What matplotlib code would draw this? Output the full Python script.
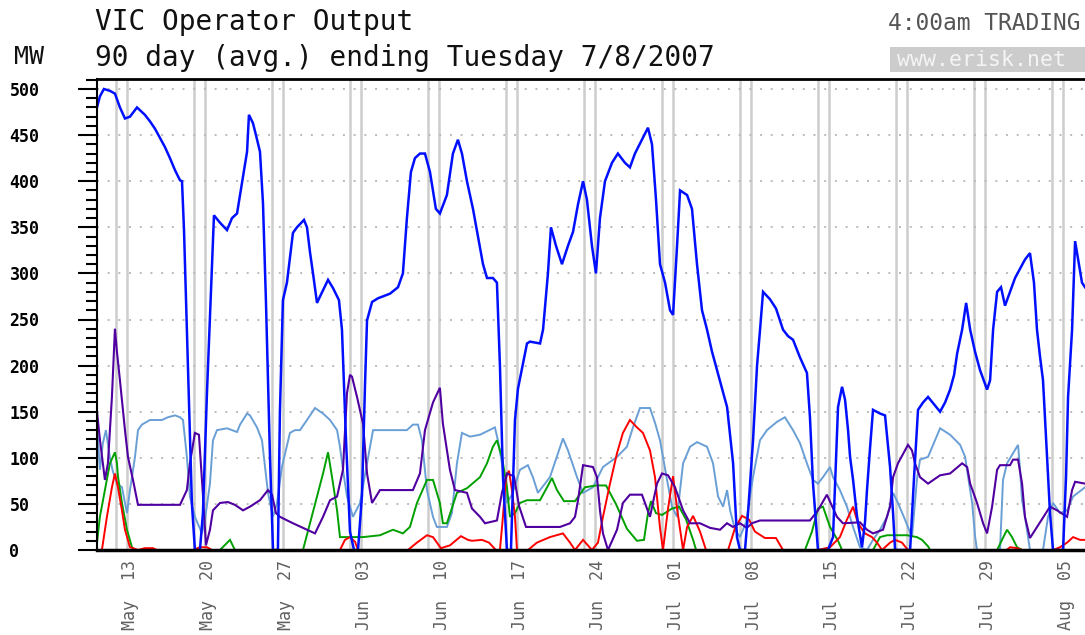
import matplotlib
matplotlib.use("Agg")

import matplotlib.dates as mdates
import matplotlib.pyplot as plt
import pandas as pd
from matplotlib.patches import Rectangle
from matplotlib.ticker import MultipleLocator

START = pd.Timestamp("2007-05-10")
END = pd.Timestamp("2007-08-07")
MONO = "DejaVu Sans Mono"

# (days since START, MW)
blue_pts = [
    (0.31, 480), (0.57, 492), (0.93, 500), (1.47, 498), (1.92, 495), (2.37, 480),
    (2.82, 468), (3.27, 470), (3.90, 480), (4.61, 472), (5.06, 465), (5.51, 457),
    (5.96, 447), (6.41, 437), (6.86, 425), (7.31, 412), (7.76, 401), (7.94, 400),
    (8.12, 347), (8.47, 200), (8.83, 50), (9.10, 0), (9.55, 0), (9.82, 40),
    (10.18, 170), (10.54, 280), (10.81, 363), (11.35, 355), (11.98, 347), (12.43, 360),
    (12.88, 365), (13.42, 405), (13.78, 432), (13.95, 472), (14.31, 463), (14.58, 450),
    (14.94, 432), (15.21, 376), (15.48, 268), (15.84, 100), (16.11, 0), (16.55, 0),
    (16.73, 150), (17.00, 271), (17.36, 290), (17.90, 344), (18.26, 350), (18.89, 358),
    (19.16, 350), (19.43, 323), (19.70, 300), (20.06, 268), (20.33, 275), (21.05, 293),
    (21.50, 284), (22.03, 271), (22.30, 239), (22.66, 120), (23.02, 20), (23.38, 0),
    (23.74, 0), (24.10, 60), (24.37, 180), (24.55, 249), (25.00, 269), (25.53, 273),
    (26.61, 278), (27.33, 285), (27.77, 300), (28.13, 360), (28.49, 410), (28.85, 425),
    (29.30, 430), (29.75, 430), (30.20, 410), (30.73, 370), (31.09, 365), (31.72, 385),
    (32.26, 430), (32.71, 445), (33.07, 430), (33.52, 400), (34.06, 370), (34.51, 340),
    (34.96, 310), (35.32, 295), (35.85, 295), (36.21, 290), (36.48, 200), (36.75, 80),
    (37.11, 0), (37.47, 0), (37.83, 141), (38.10, 175), (38.46, 197), (38.91, 224),
    (39.18, 226), (40.08, 224), (40.35, 239), (40.79, 300), (41.06, 350), (41.51, 330),
    (42.05, 310), (42.59, 330), (43.04, 345), (43.49, 375), (43.94, 400), (44.29, 380),
    (44.74, 330), (45.10, 300), (45.46, 360), (45.91, 400), (46.54, 420), (47.07, 430),
    (47.70, 420), (48.15, 415), (48.60, 430), (49.23, 445), (49.77, 458), (50.13, 440),
    (50.49, 380), (50.85, 310), (51.30, 290), (51.75, 260), (52.02, 255), (52.38, 330),
    (52.65, 390), (53.28, 385), (53.72, 370), (54.17, 310), (54.62, 260), (55.07, 239),
    (55.52, 215), (55.97, 195), (56.42, 175), (56.87, 155), (57.14, 125), (57.41, 94),
    (57.76, 14), (58.03, 0), (58.48, 0), (58.75, 40), (59.20, 119), (59.56, 200),
    (59.83, 239), (60.10, 280), (60.72, 272), (61.26, 262), (61.89, 239), (62.34, 232),
    (62.79, 228), (63.41, 209), (64.04, 192), (64.31, 144), (64.58, 73), (65.03, 0),
    (65.93, 0), (66.38, 14), (66.83, 155), (67.19, 177), (67.46, 163), (67.73, 130),
    (67.91, 101), (68.18, 76), (68.54, 36), (68.98, 3), (69.25, 30), (69.43, 65),
    (69.70, 110), (69.97, 152), (70.60, 148), (71.05, 146), (71.50, 90), (71.77, 40),
    (71.95, 0), (73.30, 0), (73.66, 80), (74.01, 152), (74.46, 160), (74.91, 166),
    (75.45, 158), (75.99, 150), (76.44, 160), (76.89, 174), (77.25, 190), (77.52, 213),
    (77.97, 239), (78.33, 268), (78.69, 239), (79.13, 215), (79.58, 195), (80.21, 174),
    (80.48, 184), (80.75, 239), (81.11, 280), (81.46, 285), (81.82, 265), (82.27, 280),
    (82.72, 295), (83.17, 305), (83.61, 315), (84.06, 322), (84.42, 290), (84.69, 239),
    (84.96, 210), (85.23, 184), (85.59, 101), (85.86, 40), (86.13, 0), (87.03, 0),
    (87.30, 80), (87.48, 166), (87.84, 239), (88.11, 335), (88.46, 310), (88.73, 290),
    (89.00, 285),
]

purple_pts = [
    (0.31, 150), (0.57, 120), (1.02, 76), (1.29, 94), (1.65, 166), (1.92, 240),
    (2.10, 215), (2.37, 184), (2.82, 130), (3.09, 101), (3.54, 76), (3.99, 49),
    (7.76, 49), (8.38, 65), (8.65, 94), (9.10, 127), (9.46, 125), (9.82, 60),
    (10.09, 5), (10.45, 22), (10.72, 43), (11.35, 51), (12.06, 52), (12.69, 49),
    (13.42, 43), (14.04, 47), (14.94, 54), (15.66, 65), (16.02, 60), (16.38, 40),
    (16.73, 36), (17.90, 29), (19.16, 22), (19.88, 18), (20.60, 36), (21.23, 54),
    (21.86, 58), (22.39, 87), (22.75, 170), (23.02, 190), (23.20, 188), (23.65, 166),
    (24.19, 137), (24.55, 83), (25.00, 51), (25.71, 65), (28.67, 65), (29.30, 83),
    (29.75, 130), (30.47, 160), (31.09, 176), (31.36, 137), (31.99, 87), (32.44, 65),
    (33.52, 62), (33.97, 45), (34.69, 36), (35.14, 29), (36.21, 32), (36.66, 62),
    (37.11, 83), (37.74, 80), (38.19, 48), (38.82, 25), (40.53, 25), (41.87, 25),
    (42.77, 29), (43.22, 36), (43.49, 54), (43.94, 92), (44.83, 90), (45.19, 79),
    (45.46, 43), (45.73, 18), (46.18, 0), (46.99, 22), (47.52, 51), (48.15, 60),
    (49.23, 60), (49.50, 51), (49.95, 36), (50.58, 72), (51.03, 83), (51.57, 81),
    (52.20, 68), (52.92, 43), (53.55, 29), (54.44, 29), (55.34, 24), (56.24, 22),
    (56.86, 29), (57.40, 25), (58.03, 29), (58.65, 24), (59.10, 29), (59.82, 32),
    (64.31, 32), (65.03, 43), (65.83, 60), (66.73, 36), (67.27, 29), (68.80, 30),
    (69.43, 22), (69.97, 18), (70.87, 22), (71.50, 47), (71.77, 79), (72.21, 94),
    (72.84, 108), (73.11, 114), (73.47, 108), (73.74, 94), (74.19, 79), (74.91, 72),
    (75.99, 81), (76.89, 83), (77.97, 94), (78.42, 90), (78.69, 72), (79.31, 51),
    (79.85, 29), (80.21, 18), (80.66, 47), (81.11, 87), (81.37, 92), (82.27, 92),
    (82.54, 98), (82.99, 98), (83.35, 72), (83.61, 36), (84.06, 13), (84.96, 30),
    (85.86, 47), (86.49, 43), (87.39, 36), (87.84, 65), (88.11, 74), (89.00, 72),
]

lightblue_pts = [
    (0.31, 138), (0.57, 87), (0.84, 116), (1.11, 130), (1.47, 100), (1.74, 85),
    (2.10, 72), (2.55, 68), (3.00, 40), (3.27, 65), (3.72, 101), (3.99, 130),
    (4.34, 136), (5.06, 141), (6.14, 141), (6.68, 144), (7.31, 146), (7.76, 144),
    (8.03, 141), (8.38, 101), (8.65, 58), (9.10, 36), (9.73, 18), (10.00, 33),
    (10.45, 72), (10.72, 119), (11.08, 130), (11.98, 132), (12.88, 128), (13.15, 136),
    (13.78, 148), (14.04, 146), (14.67, 133), (15.12, 119), (15.39, 90), (15.66, 62),
    (16.11, 36), (16.47, 51), (16.91, 90), (17.63, 127), (18.08, 130), (18.53, 130),
    (19.16, 141), (19.88, 154), (20.60, 148), (21.23, 141), (21.86, 130), (22.12, 112),
    (22.39, 87), (22.75, 58), (23.29, 36), (23.92, 51), (24.55, 94), (25.09, 130),
    (28.13, 130), (28.67, 136), (29.12, 136), (29.48, 119), (29.93, 65), (30.47, 36),
    (30.82, 25), (31.72, 25), (32.17, 40), (32.62, 94), (33.07, 127), (33.79, 123),
    (34.69, 125), (36.03, 133), (36.30, 119), (36.66, 94), (37.11, 51), (37.56, 60),
    (38.28, 87), (38.99, 92), (39.44, 79), (39.89, 62), (40.97, 79), (42.14, 121),
    (42.59, 108), (43.40, 79), (43.94, 62), (44.83, 68), (45.73, 90), (46.99, 101),
    (47.88, 112), (48.42, 133), (49.05, 154), (49.95, 154), (50.40, 138), (50.85, 119),
    (51.48, 76), (51.93, 47), (52.38, 36), (52.92, 94), (53.55, 112), (54.17, 117),
    (55.07, 112), (55.61, 94), (56.06, 58), (56.51, 47), (56.87, 65), (57.14, 43),
    (57.59, 22), (58.03, 14), (58.57, 30), (59.20, 79), (59.82, 119), (60.45, 130),
    (61.35, 139), (62.06, 144), (62.79, 130), (63.41, 116), (64.04, 94), (64.58, 76),
    (65.03, 72), (65.48, 79), (66.11, 90), (66.38, 79), (67.00, 65), (67.63, 47),
    (68.18, 25), (68.80, 3), (69.43, 0), (69.97, 11), (70.60, 22), (71.23, 36),
    (71.77, 62), (72.21, 51), (72.84, 33), (73.47, 14), (73.91, 76), (74.19, 98),
    (74.91, 101), (75.54, 119), (75.99, 132), (76.89, 125), (77.79, 114), (78.24, 101),
    (78.51, 79), (78.87, 51), (79.13, 15), (79.31, 0), (81.37, 0), (81.64, 76),
    (82.00, 94), (82.54, 105), (82.99, 114), (83.17, 87), (83.35, 54), (83.61, 36),
    (84.06, 0), (85.23, 0), (85.68, 36), (86.13, 51), (86.76, 40), (87.39, 43),
    (87.93, 58), (89.00, 68),
]

green_pts = [
    (0.31, 8), (0.57, 36), (1.02, 65), (1.47, 94), (1.92, 106), (2.10, 94),
    (2.19, 80), (2.55, 51), (3.00, 22), (3.45, 3), (3.72, 0), (11.35, 0),
    (12.25, 11), (12.69, 0), (18.80, 0), (19.43, 29), (20.06, 58), (20.60, 83),
    (21.05, 106), (21.50, 72), (21.86, 43), (22.12, 14), (24.19, 14), (25.71, 16),
    (26.88, 22), (27.77, 18), (28.40, 25), (29.03, 51), (29.93, 76), (30.47, 76),
    (31.09, 51), (31.36, 29), (31.72, 29), (32.62, 62), (33.52, 67), (34.69, 79),
    (35.32, 94), (35.85, 112), (36.21, 119), (36.66, 101), (37.11, 68), (37.38, 36),
    (37.83, 40), (38.28, 51), (38.91, 54), (40.08, 54), (40.71, 68), (41.15, 78),
    (41.60, 65), (42.23, 53), (43.22, 53), (44.11, 68), (45.10, 70), (46.00, 70),
    (46.89, 50), (47.88, 23), (48.78, 10), (49.41, 11), (49.77, 40), (50.04, 53),
    (50.49, 40), (51.03, 38), (51.93, 45), (52.56, 47), (53.19, 33), (53.82, 11),
    (54.09, 0), (63.86, 0), (64.49, 20), (65.03, 45), (65.48, 47), (66.11, 25),
    (66.83, 10), (67.19, 0), (69.97, 0), (70.60, 14), (71.23, 16), (73.02, 16),
    (73.91, 14), (74.37, 11), (74.91, 4), (75.09, 0), (81.11, 0), (81.55, 11),
    (82.00, 22), (82.45, 14), (82.90, 3), (83.35, 0), (89.00, 0),
]

red_pts = [
    (0.31, 0), (0.75, 0), (1.20, 36), (1.65, 68), (1.92, 83), (2.19, 68),
    (2.55, 43), (2.82, 22), (3.27, 3), (3.54, 2), (3.99, 0), (4.61, 2),
    (5.33, 2), (5.69, 0), (8.92, 0), (9.55, 3), (10.18, 3), (10.63, 0),
    (22.12, 0), (22.57, 11), (23.02, 14), (23.47, 9), (23.74, 0), (28.22, 0),
    (29.03, 8), (29.93, 16), (30.47, 14), (31.18, 2), (31.99, 5), (32.98, 15),
    (33.61, 11), (33.97, 10), (34.87, 11), (35.50, 8), (36.12, 0), (36.48, 0),
    (36.75, 36), (37.02, 79), (37.29, 86), (37.56, 65), (37.83, 36), (38.01, 0),
    (39.00, 0), (39.80, 8), (40.97, 14), (42.14, 18), (42.77, 8), (43.22, 0),
    (43.94, 11), (44.74, 0), (45.28, 8), (45.73, 36), (46.36, 72), (46.99, 105),
    (47.52, 127), (48.15, 141), (48.78, 133), (49.32, 127), (49.95, 108), (50.40, 79),
    (50.85, 24), (51.12, 0), (51.57, 45), (52.02, 80), (52.38, 45), (52.92, 0),
    (53.28, 25), (53.82, 37), (54.44, 20), (54.98, 0), (56.96, 0), (57.59, 24),
    (58.21, 37), (58.84, 33), (59.37, 20), (60.27, 13), (61.26, 13), (61.89, 0),
    (65.03, 0), (66.11, 3), (67.00, 14), (67.63, 33), (68.18, 47), (68.62, 29),
    (69.25, 18), (69.88, 14), (70.33, 8), (70.78, 0), (71.50, 8), (71.95, 11),
    (72.57, 8), (73.11, 0), (81.98, 0), (82.27, 3), (82.90, 2), (83.35, 0),
    (86.13, 0), (86.76, 3), (87.39, 8), (87.93, 14), (88.55, 11), (89.00, 11),
]

# drawing order: first is underneath
SERIES = [
    (lightblue_pts, "#6A9FD6", 1.4),
    (green_pts, "#00A000", 1.4),
    (red_pts, "#FF0000", 1.4),
    (purple_pts, "#5000A0", 1.5),
    (blue_pts, "#0010FF", 1.8),
]


def to_dates(days):
    return START + pd.to_timedelta(days, unit="D")


fig = plt.figure(figsize=(10.85, 6.35), dpi=100)
ax = fig.add_axes([97 / 1085, 85 / 635, 1 - 97 / 1085, 471 / 635])

for pts, color, lw in SERIES:
    days, mw = zip(*pts)
    ax.plot(to_dates(list(days)), mw, color=color, lw=lw, solid_joinstyle="miter")

# weekend markers (Saturday and Sunday)
for day in pd.date_range("2007-05-12", "2007-08-05", freq="D"):
    if day.weekday() >= 5:
        ax.axvline(day, color="#CDCDCD", lw=1.8, zorder=0)

ax.set_xlim(to_dates([0.31])[0], END)
ax.set_ylim(0, 500 * 471 / 461)

sundays = pd.date_range("2007-05-13", "2007-08-05", freq="7D")
ax.set_xticks(mdates.date2num(sundays + pd.Timedelta(hours=6)))
ax.set_xticklabels([d.strftime("%b  %d") for d in sundays], rotation=90,
                   family=MONO, fontsize=12, color="#606060")
ax.tick_params(axis="x", length=0, pad=7)

ax.yaxis.set_major_locator(MultipleLocator(50))
ax.yaxis.set_minor_locator(MultipleLocator(10))
ax.tick_params(axis="y", which="major", direction="out", length=14, width=1.5,
               pad=49, labelsize=12)
ax.tick_params(axis="y", which="minor", direction="out", length=8, width=1.5)
for label in ax.get_yticklabels():
    label.set_horizontalalignment("left")
    label.set_family(MONO)
    label.set_fontweight("bold")

ax.yaxis.grid(True, which="major", color="#BBBBBB", lw=1.4, linestyle=(0, (1, 4.5)))
ax.set_axisbelow(True)

ax.spines["right"].set_visible(False)
ax.spines["top"].set_linewidth(2)
ax.spines["left"].set_linewidth(1.5)
ax.spines["bottom"].set_linewidth(2.5)

fig.text(95 / 1085, 1 - 22 / 635, "VIC Operator Output", family=MONO, fontsize=20,
         va="center", ha="left", color="#111111")
fig.text(95 / 1085, 1 - 58 / 635, "90 day (avg.) ending Tuesday 7/8/2007", family=MONO,
         fontsize=20, va="center", ha="left", color="#111111")
fig.text(14 / 1085, 1 - 57 / 635, "MW", family=MONO, fontsize=18, va="center",
         ha="left", color="#111111")
fig.text(1080 / 1085, 1 - 24 / 635, "4:00am TRADING", family=MONO, fontsize=16.5,
         va="center", ha="right", color="#555555")

fig.patches.append(Rectangle((890 / 1085, 1 - 72 / 635), 1 - 890 / 1085, 25 / 635,
                             transform=fig.transFigure, facecolor="#CCCCCC",
                             edgecolor="none"))
fig.text(897 / 1085, 1 - 60 / 635, "www.erisk.net", family=MONO, fontsize=15.5,
         va="center", ha="left", color="#F4F4F4")

fig.savefig("out.png", dpi=100)
